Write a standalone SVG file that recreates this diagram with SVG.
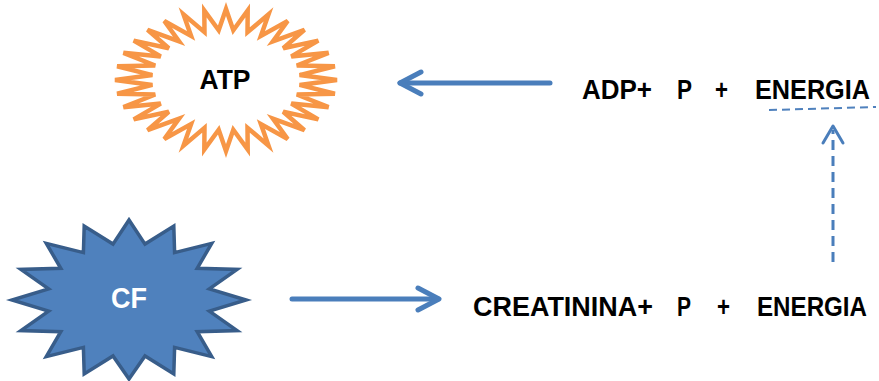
<svg xmlns="http://www.w3.org/2000/svg" width="879" height="381" viewBox="0 0 879 381">
<style>
.lbl{font-family:"Liberation Sans",Arial,sans-serif;font-weight:bold;font-size:27px;fill:#000}
.conn{fill:none;stroke:#4A7EBB;stroke-linecap:round;stroke-linejoin:round}
</style>
<rect width="879" height="381" fill="#fff"/>
<g id="atp">
<polygon fill="#fff" stroke="#F79646" stroke-width="4.5" stroke-linejoin="miter" points="337,80 299.6,75.1 334.9,66.2 296.8,65.5 328.6,52.8 291.3,56.4 318.3,40.6 283.2,48.3 304.5,29.8 272.9,41.3 287.7,21 260.9,35.9 268.5,14.4 247.5,32.2 247.7,10.4 233.3,30.2 226,9 218.7,30.2 204.3,10.4 204.5,32.2 183.5,14.4 191.1,35.9 164.3,21 179.1,41.3 147.5,29.8 168.8,48.3 133.7,40.6 160.7,56.4 123.4,52.8 155.2,65.5 117.1,66.2 152.4,75.1 115,80 152.4,84.9 117.1,93.8 155.2,94.5 123.4,107.2 160.7,103.6 133.7,119.4 168.8,111.7 147.5,130.2 179.1,118.7 164.3,139 191.1,124.1 183.5,145.6 204.5,127.8 204.3,149.6 218.7,129.8 226,151 233.3,129.8 247.7,149.6 247.5,127.8 268.5,145.6 260.9,124.1 287.7,139 272.9,118.7 304.5,130.2 283.2,111.7 318.3,119.4 291.3,103.6 328.6,107.2 296.8,94.5 334.9,93.8 299.6,84.9"/>
<text class="lbl" x="225" y="89" text-anchor="middle" font-size="28" textLength="51" lengthAdjust="spacingAndGlyphs">ATP</text>
</g>
<g id="cf">
<polygon fill="#4F81BD" stroke="#385D8A" stroke-width="3.5" stroke-linejoin="miter" points="246,300 209.4,288.9 237.1,269.4 197.2,268.3 211.7,243.4 174.6,252.6 173.8,226.1 145,244.1 129,220 113,244.1 84.2,226.1 83.4,252.6 46.3,243.4 60.8,268.3 20.9,269.4 48.6,288.9 12,300 48.6,311.1 20.9,330.6 60.8,331.7 46.3,356.6 83.4,347.4 84.2,373.9 113,355.9 129,379 145,355.9 173.8,373.9 174.6,347.4 211.7,356.6 197.2,331.7 237.1,330.6 209.4,311.1"/>
<text x="129" y="308" text-anchor="middle" font-family="Liberation Sans, Arial, sans-serif" font-weight="bold" font-size="29" fill="#fff" textLength="36" lengthAdjust="spacingAndGlyphs">CF</text>
</g>
<g id="adp">
<text class="lbl" x="582" y="99" textLength="70" lengthAdjust="spacingAndGlyphs">ADP+</text>
<text class="lbl" x="677" y="99" textLength="15" lengthAdjust="spacingAndGlyphs">P</text>
<text class="lbl" x="715" y="99" textLength="13" lengthAdjust="spacingAndGlyphs">+</text>
<text class="lbl" x="755" y="99" textLength="115" lengthAdjust="spacingAndGlyphs">ENERGIA</text>
</g>
<g id="creatinina">
<text class="lbl" x="473" y="316" textLength="180" lengthAdjust="spacingAndGlyphs">CREATININA+</text>
<text class="lbl" x="677" y="316" textLength="14" lengthAdjust="spacingAndGlyphs">P</text>
<text class="lbl" x="717" y="316" textLength="13" lengthAdjust="spacingAndGlyphs">+</text>
<text class="lbl" x="757" y="316" textLength="110" lengthAdjust="spacingAndGlyphs">ENERGIA</text>
</g>
<g id="connectors">
<line class="conn" x1="550" y1="83" x2="400" y2="83" stroke-width="5"/>
<polyline class="conn" points="421,72 400,83 421,94" stroke-width="5"/>
<line class="conn" x1="292" y1="299" x2="438" y2="299" stroke-width="5"/>
<polyline class="conn" points="418,288 439,299 418,310" stroke-width="5"/>
<line x1="833" y1="262" x2="833" y2="130" stroke="#4A7EBB" stroke-width="3" stroke-dasharray="10,6"/>
<polyline class="conn" points="823,143 833,126 843,143" stroke-width="3"/>
<line x1="769" y1="110" x2="876" y2="107" stroke="#4F81BD" stroke-width="2" stroke-dasharray="8,5"/>
</g>
</svg>
